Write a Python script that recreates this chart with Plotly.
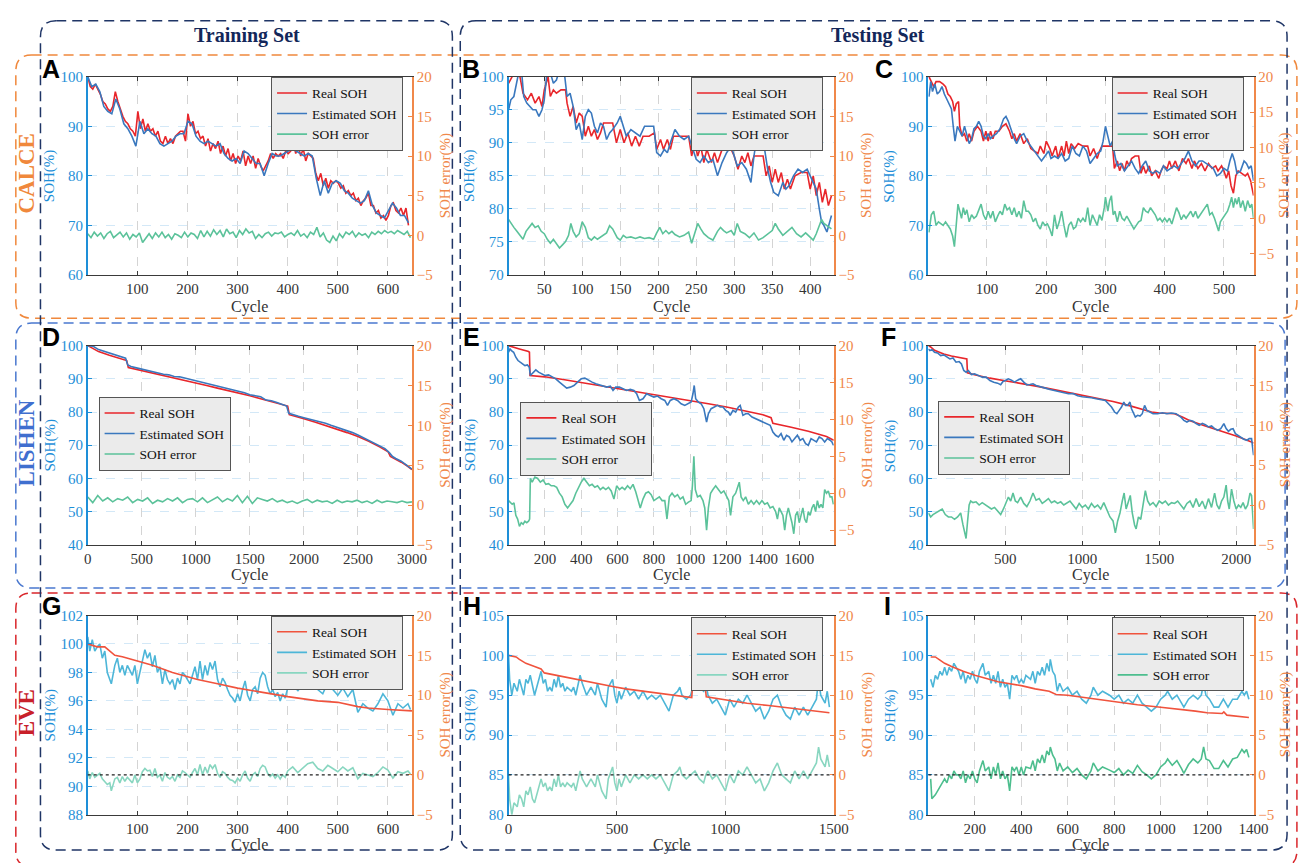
import numpy as np
import plotly.graph_objects as go

# ======================= DATA =======================
# ---- Panel A (CALCE, training) ----
A_real = [(1,100),(6,98),(11,97.5),(16,98.5),(21,97.5),(26,96.5),(31,95),(36,94.5),(41,93.5),(46,93),(51,94),
          (56,97),(61,95),(66,93.5),(71,92),(76,91),(81,90.5),(86,89.5),(91,89),(96,88),(101,93),(106,89.5),
          (111,91.5),(116,89),(121,90.5),(126,89),(131,89.5),(136,88),(141,89),(146,87),(151,86.5),(156,88),
          (161,86.5),(166,87.5),(171,86.5),(176,88),(181,88.5),(186,89),(191,89),(196,87),(201,92.5),(206,90),
          (211,91),(216,88.5),(221,89),(226,87.5),(231,88),(236,86),(241,87.5),(246,85),(251,86.5),(256,85.5),
          (261,87),(266,84.5),(271,86),(276,84),(281,85.5),(286,83),(291,84.5),(296,82.5),(301,84),(306,83),
          (311,85),(316,82),(321,84),(326,82.5),(331,84),(336,81.5),(341,83.5),(346,82),(351,81),(356,82),
          (361,83),(366,84.5),(371,83.5),(376,84.5),(381,84),(386,84.5),(391,83.5),(396,85),(401,84.5),
          (406,85),(411,87),(416,84.5),(421,86),(426,84),(431,85.5),(436,83),(441,84.5),(446,84),(451,83.5),
          (456,80.5),(461,79),(466,80.5),(471,78),(476,79.5),(481,77.5),(486,79),(491,78.5),(496,79),
          (501,78.5),(506,77.5),(511,78),(516,76.5),(521,77),(526,76),(531,76.5),(536,75),(541,75.5),(546,74),
          (551,75),(556,75.5),(561,76.5),(566,74),(571,74),(576,72.5),(581,73),(586,71.5),(591,72),(596,71),
          (601,72),(606,74),(611,74.5),(616,73),(621,72.5),(626,73.5),(631,72),(636,73.5),(641,70)]
A_est_span = (1, 641)
A_est = [100, 98, 98.5, 97, 94, 93, 92.5, 95.5, 93.5, 90.5, 89.5, 88, 86, 91, 88.5, 89.5, 88.5, 88, 86.5, 86,
         86.5, 87, 88, 88.5, 88.5, 91, 90.5, 88, 87, 86.5, 87, 86.5, 86, 86.5, 84.5, 83.5, 83, 83.5, 82.5, 85,
         84.5, 83.5, 82.5, 82.5, 80, 82.5, 84.5, 84, 84, 84.5, 85, 85.5, 85, 84.5, 84, 84.5, 84, 79.5, 76, 79,
         76.5, 78.5, 79, 78.5, 77, 76.5, 75.5, 75, 74.5, 75, 77, 74, 72.5, 72, 71.5, 73, 74.5, 73.5, 72, 72,
         70.5]
A_err_span = (1, 645)
A_err = [0.2, -0.3, 0.4, -0.1, 0.3, -0.4, 0.2, 0.5, -0.3, 0.1, 0.4, -0.2, 0.3, -0.5, 0.1, -0.2, 0.3, -0.9, -0.3,
         0.2, -0.4, 0.3, -0.2, 0.4, -0.3, 0.1, -0.5, 0.2, 0.0, -0.3, 0.4, -0.2, 0.3, 0.1, -0.4, 0.6, -0.2, 0.5,
         -0.1, 0.7, 0.1, 0.6, -0.2, 0.8, 0.2, 0.4, -0.3, 0.6, 0.1, 0.8, 0.3, 0.5, -0.4, 0.1, -0.3, 0.2, 0.4,
         -0.1, 0.3, 0.2, 0.4, -0.2, 0.1, 0.3, 0.0, 0.6, -0.1, 0.2, -0.3, 0.4, 0.1, 1.0, -0.2, 0.3, -0.6, -0.9,
         -0.1, -0.7, 0.2, -0.3, 0.4, 0.1, 0.5, -0.2, 0.3, 0.0, 0.2, -0.3, 0.4, 0.1, 0.5, 0.2, 0.6, 0.3, 0.5,
         0.2, 0.6, 0.3, 0.1, 0.5, -0.3]

# ---- Panel B (CALCE, testing) : (cycle, value) ----
B_real = [(3,99),(10,100.5),(18,100),(22,97.5),(28,96.5),(33,97.5),(38,96),(43,97),(47,95.5),(50,98),(55,100),
          (58,97),(62,98),(66,97.5),(72,98),(78,98),(80,96),(84,94),(88,95.5),(92,93),(96,94.5),(100,94),
          (104,91),(108,92.5),(112,91),(116,92),(120,90.5),(124,91.5),(128,93),(135,93),(140,93),(145,90),
          (150,92),(155,90),(160,91.5),(165,89.5),(170,91),(175,89.5),(180,91),(188,91),(195,91.5),(198,89),
          (203,90.5),(207,89),(212,90.5),(216,89),(220,91),(228,91),(240,91),(244,88),(248,90),(252,88),
          (256,89.5),(260,87),(264,89),(270,87),(274,88.5),(278,87),(284,89),(290,89),(296,89),(300,88),
          (305,86),(310,88),(314,87),(318,88.5),(322,86.5),(326,88),(332,88),(338,88),(342,85),(346,86.5),
          (350,84),(354,86),(358,84),(362,85.5),(366,83),(370,84.5),(374,83),(380,85),(388,85.5),(396,85.5),
          (400,83),(404,85),(408,82),(412,84),(416,81),(420,83),(424,80.5),(428,82)]
B_est = [(3,95),(6,96.5),(10,97),(14,99),(17,101),(20,101),(23,97),(27,96),(31,95.5),(35,95),(39,95),(43,94),
         (47,95),(50,96.5),(53,100),(57,101),(62,99),(66,99.5),(70,101),(76,101),(80,97),(84,97.5),(88,95.5),
         (92,92),(96,93),(100,90.5),(104,94),(108,95),(112,94.5),(116,92.5),(120,91.5),(124,93),(128,92.5),
         (132,90.5),(136,91.5),(140,92),(146,93),(150,94),(154,92.5),(158,91),(164,92),(170,91.5),(176,91),
         (182,92.5),(188,92.5),(194,92.5),(198,88.5),(203,88),(208,89),(212,88.5),(216,90),(222,92),(228,91),
         (234,90.5),(240,91),(246,89),(250,87.5),(255,87),(260,88),(266,87),(272,87.5),(278,85),(284,87),
         (290,88.5),(296,89.5),(300,88),(304,86.5),(310,87),(316,86),(322,84),(326,88),(330,91),(336,89.5),
         (340,89),(344,86),(348,84),(352,82.5),(358,82),(364,84),(368,83),(372,83.5),(378,85),(384,86),
         (390,85.5),(396,86),(400,85),(404,84),(408,83),(412,80),(415,78),(418,77.5),(422,76.5),(428,79)]
B_err = [(3,2),(6,1.5),(10,1),(14,0.5),(18,0),(22,-0.5),(26,0.5),(30,1),(34,1.5),(38,1),(42,1.2),(46,0.5),
         (50,0.2),(54,-0.5),(58,-1),(62,-0.5),(66,-1),(70,-1.6),(74,-1.2),(78,-0.8),(82,0),(85,1.5),(88,0.5),
         (92,-0.2),(96,0.2),(100,1.7),(104,1),(108,-0.3),(112,-0.6),(116,-0.2),(120,-0.5),(124,-0.2),(128,0),
         (132,0.3),(136,1.2),(140,0.8),(146,-0.3),(150,-0.6),(154,0),(158,-0.3),(164,-0.2),(170,-0.4),
         (176,-0.2),(182,-0.4),(188,-0.3),(194,-0.5),(198,0.3),(202,1),(206,0.2),(210,0.6),(214,0.2),(218,0.5),
         (222,0.1),(228,-0.2),(234,0),(240,0.4),(244,-1),(248,0.2),(252,1.5),(256,0.8),(260,0.2),(266,-0.3),
         (272,-0.6),(278,0.5),(282,1),(286,0.6),(290,0.3),(296,0.6),(300,0),(304,1.5),(308,0.5),(314,0.2),
         (320,-0.3),(326,0.3),(332,-0.6),(338,-0.3),(344,0.2),(350,0.6),(354,1.5),(358,0.8),(364,0),(370,0.5),
         (376,1),(382,0.2),(388,-0.2),(394,0.3),(400,-0.3),(404,-0.6),(408,0.2),(412,1.2),(415,2),(418,1.5),
         (422,1.2),(428,0.8)]

# ---- Panel C (CALCE, testing) ----
C_real = [(2,100),(6,99),(10,98),(14,99),(20,99),(26,98.5),(30,98),(34,96.5),(38,96),(42,95),(45,93),(48,94.5),
          (52,95),(54,90),(58,88),(62,88.5),(66,87),(70,88.5),(74,87),(78,89),(84,90),(90,89),(94,87),(98,89),
          (102,87),(106,89),(110,87.5),(114,89),(120,89),(126,90),(132,90.5),(138,89),(142,87.5),(146,88.5),
          (150,87),(156,88.5),(162,86.5),(168,87.5),(174,85.5),(180,85),(186,84.5),(190,86),(196,84.5),(200,87),
          (206,85.5),(210,84),(216,86),(220,83.5),(226,86),(230,84),(234,87),(238,84.5),(242,86.5),(248,85.5),
          (254,86.5),(262,86),(270,86),(274,84),(280,85.5),(286,83.5),(290,85),(294,86),(300,86),(306,86),
          (312,86),(315,81.5),(320,83),(324,81),(328,82.5),(332,81),(336,83),(340,82),(344,83.5),(350,84),
          (356,84),(360,80.5),(364,82),(368,80.5),(374,82),(378,80),(384,81),(390,79.5),(394,81),(398,82),
          (404,81.5),(408,83),(412,81.5),(418,83),(424,81),(430,83.5),(436,82.5),(440,83.5),(446,81.5),
          (450,83),(456,81.5),(462,82.5),(468,81),(474,82.5),(480,81.5),(486,82),(490,81),(496,82),(500,81),
          (504,79.5),(508,81),(512,78),(516,76.5),(520,80),(524,81),(530,80.5),(536,80),(540,80.5),(545,79),
          (550,76)]
C_est = [(2,96),(5,99),(8,97),(12,98.5),(16,96.5),(20,97),(24,98),(28,96.5),(32,95.5),(36,94.5),(40,93.5),
         (43,90),(46,87),(50,90),(54,89),(58,88),(62,90),(66,88.5),(70,86.5),(74,87.5),(78,89.5),(82,90),
         (86,91),(90,90),(94,88),(98,87.5),(102,88.5),(106,87.5),(110,88),(116,88.5),(122,89.5),(128,91.5),
         (132,92),(136,91),(140,89.5),(146,87.5),(150,86.5),(156,88),(162,88.5),(168,87),(174,86),(180,85),
         (186,84),(192,83),(198,84),(204,85),(208,83.5),(214,84),(220,83.5),(226,84.5),(232,83),(238,83.5),
         (244,86),(250,84.5),(256,84),(262,86),(268,85),(274,82.5),(280,83.5),(286,84.5),(292,85),(296,87),
         (300,90),(304,88),(308,86),(312,87),(316,84),(320,82),(326,82.5),(332,81),(338,82),(344,83),
         (350,81.5),(356,80.5),(362,82),(368,83),(374,81),(380,80.5),(386,81),(392,80.5),(398,82),(404,81),
         (410,81.5),(416,82),(422,81.5),(428,82.5),(434,83.5),(440,85),(446,83),(452,82),(458,83),(464,83),
         (470,82.5),(476,82),(482,81.5),(488,80),(494,80.5),(500,81.5),(506,81),(510,83),(514,84.5),(518,83),
         (522,80.5),(528,81),(534,83),(538,82.5),(542,81.5),(546,82),(550,79)]
C_err = [(2,-2),(6,0.5),(10,1),(14,-1),(18,-0.5),(22,-0.8),(26,-1),(30,-0.5),(34,-1),(38,-1.5),(42,-2.5),
         (45,-4),(48,-1),(51,2),(54,1),(57,0),(60,1.5),(63,0.5),(66,1.2),(70,-0.5),(74,0.5),(78,0),(82,0.3),
         (86,1.2),(90,2),(94,0.5),(98,-0.2),(102,1),(106,0),(110,1),(114,-0.5),(118,0.3),(122,1),(126,0.5),
         (130,2),(134,1.2),(138,1.5),(142,0.5),(146,1.5),(150,0.2),(154,1),(158,0),(162,2.5),(166,1),(170,1),
         (174,0.5),(178,-0.5),(182,0),(186,-1),(190,-1.5),(194,-0.5),(198,-1),(202,-0.8),(206,-1.5),
         (210,-2.5),(214,0.5),(218,-1.5),(222,-0.5),(226,1),(230,-1),(234,-2.7),(238,-1),(242,-0.5),
         (246,-1.5),(250,-1.2),(254,0),(258,-0.5),(262,0),(266,-0.5),(270,1.5),(274,-1),(278,0.5),(282,-0.2),
         (286,-1),(290,0.5),(294,-0.3),(298,1.5),(300,3),(304,1),(307,2.5),(310,3.2),(313,0.5),(316,1),
         (320,-0.5),(324,1),(328,0),(332,-0.3),(336,0.3),(340,-0.3),(344,-1),(348,-1.5),(352,-1),(356,-0.5),
         (360,-0.3),(364,1.5),(368,1),(372,0.8),(376,1.5),(380,1),(384,0.5),(388,-0.3),(392,0),(396,-0.5),
         (400,0),(404,-0.5),(408,0),(412,-0.8),(416,0.5),(420,1.5),(424,0.8),(428,-0.2),(432,0.5),(436,0),
         (440,0.5),(444,1),(448,0.2),(452,1),(456,0),(460,0.5),(464,1),(468,1.5),(472,2),(476,0.5),(480,0.8),
         (484,0),(488,-1),(491,-1.8),(494,-0.5),(498,0),(502,0.5),(506,1),(510,2),(513,3),(516,1.5),
         (519,2.8),(522,2),(525,3),(528,1.5),(532,2.5),(536,1),(540,2.5),(544,1.5),(547,2),(550,0)]

# ---- Panel D (LISHEN, training) ----
D_real = [(0,100),(100,98.2),(200,97.1),(300,96.2),(360,95.5),(375,93.4),(500,92.5),(600,91.7),(700,91),
          (800,90.2),(900,89.5),(1000,88.7),(1100,88),(1200,87.2),(1300,86.5),(1400,85.7),(1500,84.9),
          (1600,84),(1700,83.2),(1800,82.3),(1850,81.8),(1865,79.2),(1950,78.5),(2000,78),(2100,77),(2200,76),
          (2300,74.9),(2400,73.8),(2500,72.6),(2600,71.2),(2700,69.5),(2780,68),(2800,66.6),(2850,65.8),
          (2900,64.9),(2950,63.9),(3000,62.7)]
D_est = [(0,100),(50,99.8),(100,98.8),(150,98.3),(200,97.6),(250,97.2),(300,96.6),(350,96.2),(370,94.2),
         (400,93.7),(450,93.3),(500,92.9),(550,92.6),(600,92.1),(650,91.9),(700,91.4),(750,91.2),(800,90.7),
         (850,90.6),(900,90.2),(950,89.8),(1000,89.4),(1050,89.1),(1100,88.6),(1150,88.3),(1200,87.8),
         (1250,87.5),(1300,87.1),(1350,86.8),(1400,86.2),(1450,85.8),(1500,85.2),(1550,84.9),(1600,84.6),
         (1650,83.6),(1700,83.4),(1750,82.9),(1800,82.4),(1840,81.8),(1860,79.6),(1900,79.1),(1950,78.7),
         (2000,78.3),(2050,77.9),(2100,77.5),(2150,77.0),(2200,76.6),(2250,76.0),(2300,75.5),(2350,74.9),
         (2400,74.4),(2450,73.8),(2500,73.1),(2550,72.3),(2600,71.4),(2650,70.6),(2700,69.8),(2750,69.0),
         (2790,67.8),(2820,66.6),(2850,66.0),(2900,65.2),(2950,64.0),(3000,62.8)]
D_err_span = (0, 3000)
D_err = [1.0, 0.3, 1.2, 0.5, 0.9, 0.4, 0.8, 0.6, 1.0, 0.3, 0.7, 0.5, 0.9, 0.2, 0.6, 0.4, 0.8, 0.5, 0.9, 0.3,
         0.7, 0.8, 0.4, 0.9, 0.3, 0.6, 1.0, 0.4, 0.8, 0.5, 1.2, 0.3, 1.1, 0.2, 0.9, 0.7, 0.5, 0.8, 0.4, 0.6,
         0.3, 0.5, 0.2, 0.5, 0.7, 0.3, 0.6, 0.4, 0.5, 0.2, 0.6, 0.3, 0.5, 0.4, 0.6, 0.3, 0.5, 0.2, 0.6, 0.3,
         0.5, 0.4, 0.3, 0.5, 0.3, 0.4]

# ---- Panel E (LISHEN, testing) ----
E_real = [(0,100),(20,99.6),(60,99),(110,98.2),(115,98),(118,91),(200,90.6),(300,89.8),(400,88.9),(500,88),
          (600,87.2),(700,86.3),(800,85.4),(900,84.4),(1000,83.5),(1100,82.5),(1200,81.5),(1300,80.3),
          (1400,79.2),(1445,78.3),(1455,76.6),(1550,75.5),(1650,74.2),(1750,72.6),(1790,71.5)]
E_est = [(0,98),(8,99),(16,98.5),(28,98),(40,96.5),(52,95.5),(64,95),(76,94.5),(90,94),(104,94.2),(114,93.5),
         (120,91),(135,92),(150,92.7),(165,92),(180,91.5),(200,91),(220,91.2),(240,90.5),(260,90),(280,89),
         (300,88),(320,87.2),(340,87.5),(360,88),(380,89),(400,90),(420,90.2),(440,89.5),(460,89),(480,88.5),
         (500,88.2),(520,88),(540,87.5),(560,87.8),(575,86.5),(590,87.5),(610,87.5),(630,87),(650,86.5),
         (670,86.8),(690,86.5),(705,85.5),(720,83.5),(740,84),(760,85.5),(780,85),(800,84.5),(820,84.8),
         (840,84),(860,83.5),(875,82),(890,83.5),(910,84),(930,83.5),(950,82.5),(970,82),(990,82.5),
         (1005,83),(1015,85.5),(1022,88),(1030,84),(1045,83),(1060,82.5),(1075,81),(1090,77),(1100,79.5),
         (1115,81),(1130,81.5),(1150,82),(1165,81.5),(1180,81.5),(1195,80.5),(1210,80),(1220,79),
         (1235,80.5),(1250,80),(1265,81.5),(1275,82),(1290,79),(1305,79.5),(1320,79.5),(1340,78.5),(1360,78),
         (1380,77.5),(1400,77),(1420,76.5),(1440,76),(1455,74),(1470,73),(1485,72.5),(1500,73.5),
         (1515,71.5),(1530,73),(1545,72.5),(1560,71),(1575,72),(1590,73),(1605,71.5),(1620,72),(1635,70.5),
         (1650,70),(1665,72),(1680,71.5),(1695,71),(1710,72.5),(1725,72),(1740,71),(1755,72),(1770,71.5),
         (1780,71),(1788,70)]
E_err = [(0,-1),(10,-1.2),(20,-1.5),(30,-1.3),(40,-3),(50,-3.5),(60,-4.5),(70,-4),(80,-4.2),(90,-3.8),
         (100,-4),(110,-3.8),(116,-3.5),(120,2),(130,1.5),(145,2.2),(160,2),(175,1.5),(190,1.8),(205,1.2),
         (220,1.3),(235,1),(250,1),(265,0.8),(280,0),(295,-0.5),(310,-1.5),(325,-2),(340,-1.5),(355,-1),
         (370,0),(385,0.8),(400,1.5),(415,2),(430,1.5),(445,1),(460,1.2),(475,0.8),(490,1),(505,0.5),
         (520,0.8),(535,0.5),(550,0.8),(565,0.3),(580,-0.8),(595,1),(610,0.5),(625,0.8),(640,0.5),(655,1),
         (670,0.6),(685,1.2),(700,0.2),(715,-1),(725,-2),(740,-0.8),(755,0),(770,0.2),(785,-0.2),(800,-1),
         (815,-0.8),(830,-0.5),(845,-1),(860,-1),(872,-3.5),(885,-0.5),(900,0),(915,-0.5),(930,-0.2),
         (945,-0.8),(960,-0.5),(975,-1.5),(990,-1.2),(1005,-1),(1012,1),(1020,5),(1028,0.5),(1040,-0.5),
         (1055,-0.3),(1070,-1),(1080,-2),(1090,-5),(1100,-2),(1112,0),(1125,0.5),(1140,1),(1155,0.5),
         (1170,0),(1185,0.3),(1200,-0.5),(1212,-1),(1222,-3),(1235,-0.5),(1250,0),(1262,1),(1270,1.5),
         (1280,-0.5),(1292,-1),(1305,-0.5),(1320,-1.5),(1335,-1),(1350,-1.5),(1365,-1),(1380,-1.5),
         (1395,-1),(1410,-1.5),(1425,-1.3),(1440,-2),(1455,-1.8),(1470,-2.5),(1480,-3.5),(1490,-2),
         (1500,-2.5),(1510,-3),(1520,-5),(1530,-3),(1540,-2),(1550,-3),(1560,-4),(1570,-5.5),(1580,-3),
         (1590,-2.5),(1600,-4),(1610,-3),(1620,-2),(1630,-3.5),(1640,-4),(1650,-2.5),(1660,-3),(1670,-2),
         (1680,-1.5),(1690,-2.5),(1700,-1),(1710,-2),(1720,-1.5),(1730,-2),(1740,0.5),(1750,0),(1760,0.3),
         (1770,-0.5),(1780,-0.5),(1788,-1.5)]

# ---- Panel F (LISHEN, testing) ----
F_real = [(0,100),(15,99.6),(40,98.6),(100,97.5),(150,96.9),(200,96.4),(250,96),(254,91.8),(300,91.2),
          (400,90.2),(450,89.8),(500,89.6),(600,88.7),(700,87.8),(800,86.9),(900,86),(1000,85.2),(1100,84.3),
          (1200,83.2),(1300,82),(1400,80.8),(1450,80),(1500,79.7),(1600,79.5),(1650,78.5),(1700,77.4),
          (1800,75.8),(1900,74.3),(2000,72.8),(2100,71),(2113,70.6)]
F_est = [(0,99),(10,98.5),(25,98.8),(40,98),(60,97.8),(80,97),(100,97.2),(120,96.5),(140,96),(160,96.3),
         (180,95),(200,95.2),(215,94.5),(230,92.5),(245,92),(260,92.5),(280,91.3),(300,91.5),(325,91),
         (350,90.5),(375,90.5),(400,89.5),(425,89),(450,88.7),(470,88.2),(485,89.2),(500,89.5),(520,90),
         (540,89.6),(560,89),(580,89.6),(600,90),(620,89),(640,88.2),(660,88.3),(680,88.5),(700,88),
         (730,87.5),(760,87.2),(790,86.8),(820,86.5),(850,86.2),(880,86),(910,85.5),(940,85.6),(970,84.9),
         (1000,84.6),(1030,84.5),(1060,84.3),(1090,84),(1120,83.8),(1150,83.5),(1170,82.5),(1190,81.5),
         (1210,80),(1225,79.5),(1240,80.5),(1255,81.5),(1270,83),(1282,82),(1295,82),(1310,83),(1320,81),
         (1332,79.5),(1345,78.5),(1360,79),(1375,78.8),(1390,79.5),(1405,82),(1420,80.5),(1440,80),
         (1460,79.5),(1490,79.5),(1520,79.8),(1550,79.5),(1580,79.7),(1610,79.5),(1640,78.5),(1660,77.5),
         (1680,77),(1700,77.5),(1720,77.2),(1740,76.5),(1760,76),(1780,76.6),(1800,76.2),(1820,75.5),
         (1840,75.8),(1860,75),(1880,74.5),(1900,75),(1920,76.5),(1935,75),(1950,74.2),(1965,74.8),
         (1980,75),(1995,73.5),(2010,73),(2030,72.2),(2050,71.8),(2070,71.5),(2085,72),(2100,72),(2108,69),
         (2113,67)]
F_err = [(0,-1),(15,-1.5),(30,-1.2),(50,-1),(70,-0.8),(90,-0.5),(110,-1.2),(130,-1.5),(150,-1.5),
         (170,-1.8),(190,-1.5),(210,-1),(225,-2.5),(235,-3.5),(245,-4.2),(255,-2),(265,0),(275,0.5),
         (290,0.3),(310,0.4),(330,0),(350,0.3),(370,0),(390,-0.2),(410,-0.5),(430,-0.3),(450,-0.8),
         (470,-1.2),(490,-0.4),(505,0.2),(520,1),(535,0.5),(550,1.5),(565,0.5),(580,0.3),(600,1),(620,0.2),
         (640,-0.2),(660,0.5),(680,1.5),(700,0.6),(720,0.8),(740,0.2),(760,0.5),(780,0.8),(800,0.3),
         (820,0.5),(840,0.2),(860,0.4),(880,0),(900,0.3),(920,0.5),(940,0),(960,-0.5),(980,0.2),(1000,-0.3),
         (1020,0),(1040,-0.5),(1060,0.2),(1080,-0.3),(1100,0),(1120,-0.5),(1140,0.3),(1160,-0.5),
         (1180,-1.5),(1200,-2),(1215,-3.5),(1230,-2),(1245,-1),(1260,0.5),(1272,1.5),(1285,-0.5),(1300,0.3),
         (1312,1.2),(1325,-1),(1340,-2.5),(1350,-3),(1365,-1.5),(1380,-1.8),(1395,0),(1410,1.8),(1425,0.5),
         (1440,0),(1460,0.3),(1480,-0.2),(1500,0.5),(1520,0.2),(1540,0.5),(1560,0),(1580,0.3),(1600,0.2),
         (1620,0.5),(1640,0),(1660,-0.5),(1680,0.2),(1700,0.5),(1720,-0.3),(1740,0.8),(1760,-0.2),
         (1780,0.5),(1800,-0.5),(1820,0.8),(1840,-0.3),(1860,1.5),(1875,0),(1890,-0.5),(1905,0.5),(1920,1),
         (1935,2.5),(1945,0.5),(1955,-0.5),(1970,2),(1985,0.5),(2000,-0.5),(2015,0),(2030,-0.3),(2045,0.3),
         (2060,-0.5),(2075,0),(2090,1.5),(2100,1.2),(2108,-1),(2113,-3)]

# ---- Panel G (EVE, training) ----
G_real = [(1,100),(20,99.8),(35,99.8),(42,99.6),(55,99.2),(70,99.1),(100,98.8),(130,98.5),(170,98),
          (220,97.5),(260,97.2),(300,96.9),(350,96.6),(400,96.3),(460,96),(500,95.9),(540,95.6),(560,95.5),
          (600,95.4),(648,95.3)]
G_est = [(1,100.5),(5,99.5),(10,100.3),(15,99.5),(20,99.8),(25,100),(30,99),(35,99.5),(40,98),(45,97.5),
         (48,97.2),(55,98.5),(60,99),(65,98),(70,98.5),(75,97.8),(80,98.5),(90,97.8),(95,98.5),(100,97.2),
         (105,98),(110,99),(115,99.6),(120,99),(125,99.4),(130,98.4),(135,99.2),(140,98),(145,98.4),
         (150,97.2),(155,98.2),(160,97.5),(165,97.2),(170,97.5),(175,96.8),(180,97.6),(185,97.2),(190,98),
         (195,97.8),(200,97.5),(205,97.2),(210,97.8),(215,98.4),(220,97.5),(225,98.8),(230,97.5),(235,98.5),
         (240,97.8),(245,98.7),(250,98.2),(255,98.8),(260,97.5),(265,97),(270,97.6),(275,97.3),(280,96.8),
         (285,96.4),(290,96.2),(295,95.9),(300,96.5),(305,96),(310,96.8),(315,97.4),(320,96.4),(325,96),
         (330,96.8),(335,97),(340,96.5),(345,97.6),(350,98),(355,97.8),(360,97),(365,96.5),(370,96.8),
         (375,96.3),(380,96.6),(385,96),(390,96.5),(395,96.2),(400,96.9),(410,97.5),(420,96.7),(430,97.2),
         (440,97.8),(450,97.9),(460,96.8),(470,96.5),(480,97.3),(490,96.8),(500,96.4),(510,96.9),(520,96.3),
         (530,96.8),(540,95.2),(550,95.8),(560,95.5),(570,95.3),(580,95.8),(590,96.5),(600,96),(610,95),
         (620,95.8),(630,95.5),(640,95.8),(645,95.4)]
G_err = [(1,0.5),(5,-0.5),(10,0.3),(15,-0.3),(25,0.2),(30,-0.5),(40,-1.2),(45,-1),(48,-2),(55,-0.5),
         (60,-0.3),(65,-1),(70,-0.2),(75,-0.8),(80,-0.3),(90,-1),(95,0),(100,-1),(105,-0.5),(110,0.4),
         (115,0.8),(120,0.5),(125,0.6),(130,-0.2),(135,0.8),(140,-0.3),(145,0),(150,-0.8),(155,0.3),
         (160,-0.3),(165,-0.5),(170,-0.2),(175,-0.8),(180,0),(185,-0.3),(190,0.5),(195,0.3),(200,0),
         (205,-0.3),(210,0.3),(215,0.8),(220,0),(225,1.3),(230,0),(235,1),(240,0.2),(245,1.3),(250,0.8),
         (255,1.3),(260,0.2),(265,-0.3),(270,0.4),(275,0.2),(280,-0.3),(285,-0.6),(290,-0.7),(295,-1),
         (300,-0.4),(305,-0.8),(310,0),(315,0.5),(320,-0.4),(325,-0.8),(330,0),(335,0.3),(340,-0.2),
         (345,0.8),(350,1.2),(355,1),(360,0.2),(365,-0.2),(370,0.1),(375,-0.4),(380,0),(385,-0.5),(390,0),
         (395,-0.3),(400,0.5),(410,1),(420,0.3),(430,0.8),(440,1.4),(450,1.6),(460,0.8),(470,0.5),(480,1.2),
         (490,0.8),(500,0.4),(510,1),(520,0.5),(530,0.9),(540,-0.5),(550,0.2),(560,0),(570,-0.2),(580,0.3),
         (590,1),(600,0.6),(610,-0.4),(620,0.4),(630,0.2),(640,0.5),(645,0.1)]

# ---- Panel H (EVE, testing) ----
H_real = [(0,100),(20,99.9),(35,99.8),(50,99.5),(80,99),(120,98.6),(150,98.3),(165,97.8),(200,97.6),
          (260,97.3),(330,96.9),(400,96.5),(480,96.1),(540,95.8),(620,95.5),(700,95.2),(780,94.9),(845,94.7),
          (850,96.8),(905,96.6),(912,94.8),(1000,94.4),(1100,94),(1200,93.7),(1300,93.4),(1400,93.1),
          (1480,92.8)]
H_est = [(0,100),(5,97),(15,95),(25,96.5),(40,95.5),(50,97),(60,96),(70,95),(80,97),(90,96.5),(100,97.5),
         (110,96),(120,95),(130,96),(140,97),(150,98),(160,96.5),(170,97),(180,95.5),(190,96),(200,95.5),
         (210,97),(220,96),(230,97.5),(240,96),(250,96.5),(260,95.5),(270,96),(290,95.5),(300,96),(310,95),
         (330,97.5),(340,96.5),(360,95),(380,96),(400,95),(410,96.5),(430,94.5),(450,93.5),(460,96),(480,97),
         (490,95),(500,94),(510,95.5),(520,94.5),(540,96),(560,95),(580,95.5),(600,94.5),(620,95.5),
         (640,94.5),(660,95),(680,94.5),(700,95),(720,94),(740,93),(760,95),(780,95.5),(790,96),(800,95),
         (820,94.5),(840,95),(860,97),(880,96),(900,95.5),(910,96.5),(920,95),(940,94),(960,94.5),(980,93.5),
         (1000,92.5),(1020,94.5),(1040,93.5),(1060,94.5),(1080,94),(1100,95),(1120,94),(1140,93),(1160,93.5),
         (1180,92),(1200,93),(1220,94.5),(1240,95),(1260,93.5),(1280,92.5),(1300,92),(1320,93.5),(1340,92.5),
         (1360,93.5),(1380,92.5),(1400,93.5),(1420,94.5),(1430,97),(1440,95),(1460,94),(1470,95.5),
         (1480,93.5)]
H_err = [(0,0),(5,-3),(15,-5),(25,-3.5),(40,-4),(50,-2.5),(60,-3),(70,-4),(80,-2),(90,-2.5),(100,-1.5),
         (110,-3),(120,-3.5),(130,-2.5),(140,-1.5),(150,-0.5),(160,-1.5),(170,-1),(180,-2),(190,-1.5),
         (200,-2),(210,-0.5),(220,-1.5),(230,0),(240,-1.5),(250,-1),(260,-1.5),(270,-1),(290,-1.5),(300,-1),
         (310,-2),(330,0.5),(340,-0.5),(360,-1.5),(380,-0.5),(400,-1.5),(410,0),(430,-2),(450,-3),(460,-0.5),
         (480,1),(490,-1),(500,-2),(510,-0.5),(520,-1.5),(540,0),(560,-1),(580,0),(600,-0.5),(620,0),
         (640,-0.5),(660,0),(680,-0.5),(700,0),(720,-1),(740,-2),(760,0),(780,0.5),(790,1),(800,0),
         (820,-0.5),(840,0),(860,0.5),(880,-0.5),(900,-1),(910,0),(920,0.5),(940,-0.5),(960,0),(980,-1),
         (1000,-2),(1020,0),(1040,-1),(1060,0.5),(1080,0),(1100,1),(1120,0),(1140,-1),(1160,-0.5),(1180,-2),
         (1200,-1),(1220,0.5),(1240,1.5),(1260,0),(1280,-0.5),(1300,-1),(1320,0.5),(1340,-0.5),(1360,0.5),
         (1380,-0.5),(1400,0.5),(1420,1.5),(1430,3.5),(1440,2),(1460,1),(1470,2.5),(1480,1)]

# ---- Panel I (EVE, testing) ----
I_real = [(10,99.8),(30,99.8),(50,99.4),(70,99),(100,98.6),(150,98),(200,97.5),(250,97.1),(300,96.7),
          (400,96.2),(460,95.8),(520,95.5),(550,95.1),(600,95),(700,94.6),(800,94.2),(900,93.8),(1000,93.5),
          (1100,93.2),(1150,93),(1200,92.8),(1265,92.7),(1272,92.9),(1285,92.5),(1380,92.2)]
I_est = [(10,97),(20,96),(30,97.5),(40,97),(50,98),(60,97.5),(70,98.5),(80,97.5),(90,98.5),(100,98),(110,99),
         (120,98.5),(130,98),(140,97),(150,98),(160,96.5),(170,97.5),(180,97),(190,98),(200,97),(210,96.5),
         (220,98),(235,99),(245,97.5),(260,98),(270,96.5),(280,97.5),(290,96.5),(300,98),(310,96),(320,97),
         (330,96),(340,96.5),(350,94.5),(360,97.5),(370,97),(380,97.5),(390,96.5),(400,97),(410,96.5),
         (420,97.5),(440,97),(450,98),(460,96.5),(470,98),(480,97.5),(490,98.5),(500,97.5),(510,99),(520,98),
         (525,99.5),(535,98),(545,97.5),(555,95.5),(565,96.5),(580,95.5),(600,96),(620,95),(640,95.5),
         (660,94.5),(680,94),(700,95),(710,96),(730,95),(750,95.5),(780,95),(800,94.5),(820,95),(840,94),
         (860,94.5),(880,94),(900,95),(920,94),(940,93.5),(960,93),(980,93.5),(1000,94.5),(1020,95),
         (1030,95.5),(1050,94.5),(1070,95),(1090,94),(1100,93.5),(1120,94.5),(1140,95),(1160,94.5),
         (1175,95),(1185,96.5),(1195,95),(1210,94.5),(1230,93.5),(1250,93.5),(1270,94.5),(1290,93.5),
         (1310,94.5),(1330,94.5),(1350,95.5),(1360,95),(1370,95.5),(1380,94.5)]
I_err = [(10,-0.5),(15,-3),(30,-2.5),(40,-2),(50,-1.5),(60,-1),(70,-0.5),(80,-1),(90,0),(100,-0.5),(110,0.5),
         (120,0),(130,0),(140,-0.5),(150,0.5),(160,-1),(170,0),(180,-0.5),(190,0.5),(200,-0.5),(210,-1),
         (220,0.5),(235,1.8),(245,0.5),(260,1),(270,-0.5),(280,1),(290,0),(300,1.5),(310,-0.5),(320,0.5),
         (330,-0.5),(340,0),(350,-2),(360,1),(370,0.5),(380,1),(390,0),(400,1),(410,0),(420,1),(440,0.8),
         (450,1.8),(460,0.5),(470,2),(480,1.5),(490,2.5),(500,1.5),(510,3),(520,2.5),(525,3.5),(535,2.5),
         (545,2),(555,0.5),(565,1.5),(580,0.5),(600,1),(620,0.3),(640,0.8),(660,0),(680,-0.5),(700,0.5),
         (710,1.5),(730,0.5),(750,1),(780,0.6),(800,0.3),(820,0.8),(840,0),(860,0.6),(880,0.2),(900,1.2),
         (920,0.4),(940,0),(960,-0.5),(980,0),(1000,1),(1020,1.5),(1030,2),(1050,1.2),(1070,1.8),(1090,0.8),
         (1100,0.2),(1120,1.3),(1140,2),(1160,1.5),(1175,2),(1185,3.5),(1195,2),(1210,1.8),(1230,0.8),
         (1250,0.8),(1270,1.8),(1290,1),(1310,2),(1330,2.2),(1350,3.2),(1360,2.8),(1370,3.2),(1380,2.2)]

SERIES_NAMES = ["Real SOH", "Estimated SOH", "SOH error"]
ROW_NAMES = ["CALCE", "LISHEN", "EVE"]
COL_TITLES = ["Training Set", "Testing Set"]
PANEL_LETTERS = ["A", "B", "C", "D", "E", "F", "G", "H", "I"]


def grid(vals, span):
    return list(np.linspace(span[0], span[1], len(vals))), list(vals)


def unzip(pairs):
    return [p[0] for p in pairs], [p[1] for p in pairs]


# ======================= LAYOUT =======================
W, H = 1306, 863


def px(x):
    return x / W


def py(y):
    return 1 - y / H


COLS = [(85, 414), (512, 842), (938, 1268)]
ROWS = [(70, 272), (344, 547), (619, 822)]

SERIF = "Liberation Serif"
BLUE_AX = "#1E8FD8"
ORANGE_AX = "#F0884A"

c1 = dict(real="#E8262B", est="#3A78BE", err="#5BC29A")
c_eve = dict(real="#F0533D", est="#4DB6D8", err="#88D6C0")
c_eve_i = dict(real="#F0533D", est="#4DB6D8", err="#4DBE8E")

PANELS = [
    dict(real=unzip(A_real), est=grid(A_est, A_est_span), err=grid(A_err, A_err_span),
         xr=[1, 648], xt=list(range(100, 601, 100)), yl=[60, 100], ylt=list(range(60, 101, 10)),
         yr=[-5, 20], col=c1, leg=(271, 70), zero=False, front="est"),
    dict(real=unzip(B_real), est=unzip(B_est), err=unzip(B_err),
         xr=[3, 431], xt=list(range(50, 401, 50)), yl=[70, 100], ylt=list(range(70, 101, 5)),
         yr=[-5, 20], col=c1, leg=(697, 70), zero=False, front="est"),
    dict(real=unzip(C_real), est=unzip(C_est), err=unzip(C_err),
         xr=[1, 550], xt=list(range(100, 501, 100)), yl=[60, 100], ylt=list(range(60, 101, 10)),
         yr=[-8, 20], col=c1, leg=(1124, 70), zero=False, front="est"),
    dict(real=unzip(D_real), est=unzip(D_est), err=grid(D_err, D_err_span),
         xr=[0, 3000], xt=list(range(0, 3001, 500)), yl=[40, 100], ylt=list(range(40, 101, 10)),
         yr=[-5, 20], col=c1, leg=(96, 396), zero=False, front="est"),
    dict(real=unzip(E_real), est=unzip(E_est), err=unzip(E_err),
         xr=[0, 1790], xt=list(range(200, 1601, 200)), yl=[40, 100], ylt=list(range(40, 101, 10)),
         yr=[-7, 20], col=c1, leg=(524, 401), zero=False, front="est"),
    dict(real=unzip(F_real), est=unzip(F_est), err=unzip(F_err),
         xr=[0, 2113], xt=list(range(500, 2001, 500)), yl=[40, 100], ylt=list(range(40, 101, 10)),
         yr=[-5, 20], col=c1, leg=(948, 400), zero=False, front="est"),
    dict(real=unzip(G_real), est=unzip(G_est), err=unzip(G_err),
         xr=[1, 648], xt=list(range(100, 601, 100)), yl=[88, 102], ylt=list(range(88, 103, 2)),
         yr=[-5, 20], col=c_eve, leg=(271, 619), zero=True, front="real"),
    dict(real=unzip(H_real), est=unzip(H_est), err=unzip(H_err),
         xr=[0, 1500], xt=list(range(0, 1501, 500)), yl=[80, 105], ylt=list(range(80, 106, 5)),
         yr=[-5, 20], col=c_eve, leg=(697, 621), zero=True, front="real"),
    dict(real=unzip(I_real), est=unzip(I_est), err=unzip(I_err),
         xr=[0, 1400], xt=list(range(200, 1401, 200)), yl=[80, 105], ylt=list(range(80, 106, 5)),
         yr=[-5, 20], col=c_eve_i, leg=(1124, 621), zero=True, front="real"),
]

fig = go.Figure()
layout = dict(width=W, height=H, margin=dict(l=0, r=0, t=0, b=0), paper_bgcolor="white",
              plot_bgcolor="white", showlegend=True,
              font=dict(family=SERIF, size=15, color="#333333"))
annotations = []
shapes = []

tickfont_x = dict(family=SERIF, size=15, color="#333333")
tickfont_l = dict(family=SERIF, size=15, color=BLUE_AX)
tickfont_r = dict(family=SERIF, size=15, color=ORANGE_AX)

for i, p in enumerate(PANELS):
    n = i + 1
    r, c = divmod(i, 3)
    x0, x1 = COLS[c]
    y0, y1 = ROWS[r]
    xa = "x" if n == 1 else f"x{n}"
    yl = "y" if n == 1 else f"y{2 * n - 1}"
    yr = f"y{2 * n}"
    xkey = "xaxis" if n == 1 else f"xaxis{n}"
    ylkey = "yaxis" if n == 1 else f"yaxis{2 * n - 1}"
    yrkey = f"yaxis{2 * n}"
    lkey = "legend" if n == 1 else f"legend{n}"

    layout[xkey] = dict(domain=[px(x0), px(x1)], anchor=yl, range=p["xr"], tickvals=p["xt"],
                        showline=True, linecolor="#3a3a3a", linewidth=1.3, mirror="ticks",
                        ticks="inside", ticklen=4, tickcolor="#3a3a3a", tickfont=tickfont_x,
                        showgrid=True, gridcolor="#D4D4D4", griddash="dash", gridwidth=1,
                        zeroline=False)
    layout[ylkey] = dict(domain=[py(y1), py(y0)], anchor=xa, range=p["yl"], tickvals=p["ylt"],
                         showline=True, linecolor=BLUE_AX, linewidth=1.6, ticks="inside", ticklen=4,
                         tickcolor=BLUE_AX, tickfont=tickfont_l, showgrid=True, gridcolor="#D3E8F7",
                         griddash="dash", gridwidth=1, zeroline=False)
    layout[yrkey] = dict(overlaying=yl, side="right", anchor=xa, range=p["yr"],
                         tickvals=list(range(-5, 21, 5)), showline=True, linecolor=ORANGE_AX,
                         linewidth=1.6, ticks="inside", ticklen=4, tickcolor=ORANGE_AX,
                         tickfont=tickfont_r, showgrid=False, zeroline=False)
    layout[lkey] = dict(x=px(p["leg"][0]), y=py(p["leg"][1]), xanchor="left", yanchor="top",
                        bgcolor="#EBEBEB", bordercolor="#555555", borderwidth=1,
                        font=dict(family=SERIF, size=13.5, color="#111111"), tracegroupgap=0,
                        itemwidth=30, traceorder="normal")

    col = p["col"]
    real_tr = go.Scatter(x=p["real"][0], y=p["real"][1], mode="lines", name=SERIES_NAMES[0],
                         line=dict(color=col["real"], width=1.6), xaxis=xa, yaxis=yl, legend=lkey,
                         legendrank=1)
    est_tr = go.Scatter(x=p["est"][0], y=p["est"][1], mode="lines", name=SERIES_NAMES[1],
                        line=dict(color=col["est"], width=1.6), xaxis=xa, yaxis=yl, legend=lkey,
                        legendrank=2)
    err_tr = go.Scatter(x=p["err"][0], y=p["err"][1], mode="lines", name=SERIES_NAMES[2],
                        line=dict(color=col["err"], width=1.6), xaxis=xa, yaxis=yr, legend=lkey,
                        legendrank=3)
    if p["front"] == "est":
        fig.add_trace(real_tr)
        fig.add_trace(est_tr)
    else:
        fig.add_trace(est_tr)
        fig.add_trace(real_tr)
    fig.add_trace(err_tr)

    if p["zero"]:
        shapes.append(dict(type="line", xref=f"{xa} domain", x0=0, x1=1, yref=yr, y0=0, y1=0,
                           line=dict(color="#222222", width=1.2, dash="dot"), layer="above"))

    cy = (y0 + y1) / 2
    cx = (x0 + x1) / 2
    ylx = [47, 473, 899][c]
    yrx = [448, 876, 1300][c]
    cyl = [305, 578, 853][r]
    annotations.append(dict(text="SOH(%)", x=px(ylx), y=py(cy), xref="paper", yref="paper",
                            textangle=-90, showarrow=False, xanchor="center", yanchor="middle",
                            font=dict(family=SERIF, size=15, color=BLUE_AX)))
    annotations.append(dict(text="SOH error(%)", x=px(yrx), y=py(cy), xref="paper", yref="paper",
                            textangle=-90, showarrow=False, xanchor="center", yanchor="middle",
                            font=dict(family=SERIF, size=15, color=ORANGE_AX)))
    annotations.append(dict(text="Cycle", x=px(cx), y=py(cyl), xref="paper", yref="paper",
                            showarrow=False, xanchor="center", yanchor="middle",
                            font=dict(family=SERIF, size=16, color="#333333")))

letter_pos = [(48, 62), (474, 62), (893, 62), (48, 335), (474, 335), (898, 335),
              (48, 609), (475, 609), (897, 609)]
for L, (lx, ly) in zip(PANEL_LETTERS, letter_pos):
    annotations.append(dict(text=f"<b>{L}</b>", x=px(lx), y=py(ly), xref="paper", yref="paper",
                            showarrow=False, xanchor="center", yanchor="middle",
                            font=dict(family="Liberation Sans", size=25, color="#000000")))

for t, tx in zip(COL_TITLES, [247, 887]):
    annotations.append(dict(text=f"<b>{t}</b>", x=px(tx), y=py(28), xref="paper", yref="paper",
                            showarrow=False, xanchor="center", yanchor="middle",
                            font=dict(family=SERIF, size=20, color="#13275A")))

row_cols = ["#F0883C", "#3F6FCF", "#C8202A"]
for t, ry, rc in zip(ROW_NAMES, [168, 443, 718], row_cols):
    annotations.append(dict(text=f"<b>{t}</b>", x=px(23), y=py(ry), xref="paper", yref="paper",
                            textangle=-90, showarrow=False, xanchor="center", yanchor="middle",
                            font=dict(family=SERIF, size=23, color=rc)))


def rrect(x0, y0, x1, y1, r):
    path = f"M {px(x0 + r)},{py(y0)} L {px(x1 - r)},{py(y0)} Q {px(x1)},{py(y0)} {px(x1)},{py(y0 + r)} "
    path += f"L {px(x1)},{py(y1 - r)} Q {px(x1)},{py(y1)} {px(x1 - r)},{py(y1)} "
    path += f"L {px(x0 + r)},{py(y1)} Q {px(x0)},{py(y1)} {px(x0)},{py(y1 - r)} "
    path += f"L {px(x0)},{py(y0 + r)} Q {px(x0)},{py(y0)} {px(x0 + r)},{py(y0)} Z"
    return path


boxes = [
    (12, 48, 1312, 316, "#F0883C"),
    (12, 321, 1300, 591, "#4A78CF"),
    (12, 596, 1312, 875, "#D9262B"),
    (37, 13, 455, 858, "#1F3566"),
    (463, 13, 1302, 858, "#1F3566"),
]
for bx0, by0, bx1, by1, bc in boxes:
    shapes.append(dict(type="path", path=rrect(bx0, by0, bx1, by1, 16), xref="paper", yref="paper",
                       line=dict(color=bc, width=1.5, dash="10px,6px"), layer="above"))

layout["annotations"] = annotations
layout["shapes"] = shapes
fig.update_layout(**layout)
fig.write_html("out.html")
